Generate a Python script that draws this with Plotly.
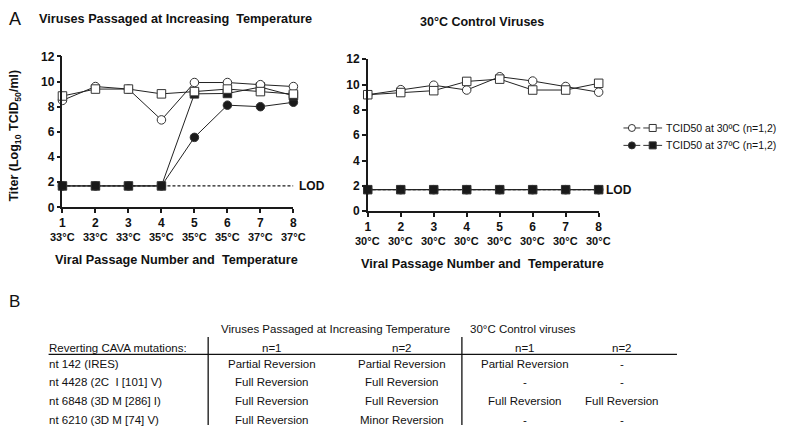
import plotly.graph_objects as go

W, H = 790, 434
def X(px): return px / W
def Y(py): return 1 - py / H

# ---------------- data ----------------
passages = [1, 2, 3, 4, 5, 6, 7, 8]
temps_increasing = ["33°C", "33°C", "33°C", "35°C", "35°C", "35°C", "37°C", "37°C"]
temps_control = ["30°C"] * 8
LOD = 1.7

# Viruses passaged at increasing temperature
inc_30_n1 = [8.5, 9.6, 9.4, 6.95, 9.92, 9.92, 9.75, 9.6]    # open circles
inc_30_n2 = [8.85, 9.4, 9.4, 9.02, 9.2, 9.4, 9.2, 9.0]      # open squares
inc_37_n1 = [1.7, 1.7, 1.7, 1.7, 5.56, 8.12, 8.0, 8.35]     # filled circles
inc_37_n2 = [1.7, 1.7, 1.7, 1.7, 9.02, 9.05, 9.56, 8.87]    # filled squares

# 30°C control viruses
ctl_30_n1 = [9.2, 9.6, 9.95, 9.57, 10.62, 10.28, 9.85, 9.4]
ctl_30_n2 = [9.2, 9.37, 9.52, 10.25, 10.43, 9.57, 9.57, 10.1]
ctl_37_n1 = [1.7] * 8
ctl_37_n2 = [1.7] * 8

y_ticks = [0, 2, 4, 6, 8, 10, 12]
legend_labels = ["TCID50 at 30ºC (n=1,2)", "TCID50 at 37ºC (n=1,2)"]

# Table
table_groups = ["Viruses Passaged at Increasing Temperature", "30°C Control viruses"]
table_cols = ["n=1", "n=2", "n=1", "n=2"]
table_header = "Reverting CAVA mutations:"
table_rows = ["nt 142 (IRES)", "nt 4428 (2C  I [101] V)", "nt 6848 (3D M [286] I)", "nt 6210 (3D M [74] V)"]
table_cells = [
    ["Partial Reversion", "Partial Reversion", "Partial Reversion", "-"],
    ["Full Reversion", "Full Reversion", "-", "-"],
    ["Full Reversion", "Full Reversion", "Full Reversion", "Full Reversion"],
    ["Full Reversion", "Minor Reversion", "-", "-"],
]

FONT = "Liberation Sans, Arial, sans-serif"
LC = "#1a1a1a"
MC = "#333"

fig = go.Figure()

def add_series(xa, ya, yvals, symbol, filled):
    fig.add_trace(go.Scatter(
        x=passages, y=yvals, mode="lines+markers", xaxis=xa, yaxis=ya,
        line=dict(color="#222", width=1),
        marker=dict(symbol=symbol, size=8.5, color=LC if filled else "white",
                    line=dict(color=MC, width=1)),
        cliponaxis=False, showlegend=False, hoverinfo="skip"))

for xa, ya, s in [("x", "y", [inc_37_n1, inc_37_n2, inc_30_n1, inc_30_n2]),
                  ("x2", "y2", [ctl_37_n1, ctl_37_n2, ctl_30_n1, ctl_30_n2])]:
    add_series(xa, ya, s[0], "circle", True)
    add_series(xa, ya, s[1], "square", True)
    add_series(xa, ya, s[2], "circle", False)
    add_series(xa, ya, s[3], "square", False)

# Legend glyphs in a pixel-mapped overlay axis
leg_rows_y = [125, 143]
for i, lab in enumerate(legend_labels):
    for (x0, x1, sym) in [(626, 643, "circle"), (646, 665, "square")]:
        fig.add_trace(go.Scatter(
            x=[x0, x1], y=[leg_rows_y[i]] * 2, mode="lines",
            xaxis="x3", yaxis="y3", line=dict(color="#333", width=1),
            showlegend=False, hoverinfo="skip"))
        fig.add_trace(go.Scatter(
            x=[(x0 + x1) / 2], y=[leg_rows_y[i]], mode="markers",
            xaxis="x3", yaxis="y3",
            marker=dict(symbol=sym, size=7, color="white" if i == 0 else LC,
                        line=dict(color=MC, width=1)),
            showlegend=False, hoverinfo="skip"))

axis_common = dict(showgrid=False, zeroline=False, showline=True, linecolor=LC, linewidth=1.5,
                   ticks="outside", ticklen=4, tickwidth=1.5, tickcolor=LC,
                   tickfont=dict(family=FONT, size=12, color="#111", weight="bold"))

fig.update_layout(
    width=W, height=H, margin=dict(l=0, r=0, t=0, b=0),
    paper_bgcolor="white", plot_bgcolor="rgba(0,0,0,0)",
    xaxis=dict(domain=[X(60), X(293)], range=[1, 8], tickvals=passages, anchor="y", **axis_common),
    yaxis=dict(domain=[Y(207), Y(51)], range=[0, 12], tickvals=y_ticks, anchor="x", **axis_common),
    xaxis2=dict(domain=[X(368), X(601)], range=[1, 8], tickvals=passages, anchor="y2", **axis_common),
    yaxis2=dict(domain=[Y(211), Y(54)], range=[0, 12], tickvals=y_ticks, anchor="x2", **axis_common),
    xaxis3=dict(domain=[0, 1], range=[0, W], visible=False, anchor="y3", fixedrange=True),
    yaxis3=dict(domain=[0, 1], range=[H, 0], visible=False, anchor="x3", fixedrange=True),
    showlegend=False,
)

# LOD lines
for xr, yr in [("x", "y"), ("x2", "y2")]:
    fig.add_shape(type="line", xref=xr, yref=yr, x0=1, x1=8, y0=LOD, y1=LOD,
                  line=dict(color=LC, width=1.2, dash="3px,2px"), layer="below")

anns = []
def T(x, y, text, size=12, bold=False, xanchor="center", xref="paper", yref="paper", **kw):
    anns.append(dict(x=x, y=y, xref=xref, yref=yref, text=text, showarrow=False,
                     xanchor=xanchor, yanchor="middle",
                     font=dict(family=FONT, size=size, color="#111", weight="bold" if bold else "normal"), **kw))

T(8, LOD, "LOD", 12, True, "left", xref="x", yref="y", xshift=4)
T(8, LOD, "LOD", 12, True, "left", xref="x2", yref="y2", xshift=5)
# temperatures under ticks
for p, t in zip(passages, temps_increasing):
    T(p, Y(238), t, 11, True, xref="x")
for p, t in zip(passages, temps_control):
    T(p, Y(242), t, 11, True, xref="x2")

T(X(175), Y(261), "Viral Passage Number and  Temperature", 12.7, True)
T(X(484), Y(266), "Viral Passage Number and  Temperature", 12.7, True)
T(X(174), Y(12), "Viruses Passaged at Increasing  Temperature", 12.7, True)
T(X(483), Y(16), "30°C Control Viruses", 12.5, True)
T(X(4), Y(12), "A", 18, False, "left")
T(X(4), Y(304), "B", 17, False, "left")
T(X(12), Y(133), "Titer (Log<sub>10</sub> TCID<sub>50</sub>/ml)", 12.5, True, textangle=-90)

# legend texts
for i, lab in enumerate(legend_labels):
    T(X(667), Y(leg_rows_y[i]), lab, 10.5, False, "left")

# Table
TS = 11.5
T(X(335), Y(333), table_groups[0], TS)
T(X(525), Y(333), table_groups[1], TS)
T(X(44), Y(352), table_header, TS, False, "left")
col_x = [271, 403, 527, 625]
for cx, c in zip(col_x, table_cols):
    T(X(cx), Y(352), c, TS)
row_y = [369, 388, 407, 427]
for ry, rl, cells in zip(row_y, table_rows, table_cells):
    T(X(44), Y(ry), rl, TS, False, "left")
    for cx, c in zip(col_x, cells):
        T(X(cx), Y(ry), c, TS)

fig.update_layout(annotations=anns)
fig.add_shape(type="line", xref="paper", yref="paper", x0=X(46), x1=X(680), y0=Y(359), y1=Y(359),
              line=dict(color="#111", width=1.3))
for vx in [207, 463]:
    fig.add_shape(type="line", xref="paper", yref="paper", x0=X(vx), x1=X(vx), y0=Y(341), y1=Y(432),
                  line=dict(color="#111", width=1.3))

fig.write_html("out.html", config={"displayModeBar": False},
               post_script="document.body.style.margin='0';document.body.style.overflow='hidden';")
